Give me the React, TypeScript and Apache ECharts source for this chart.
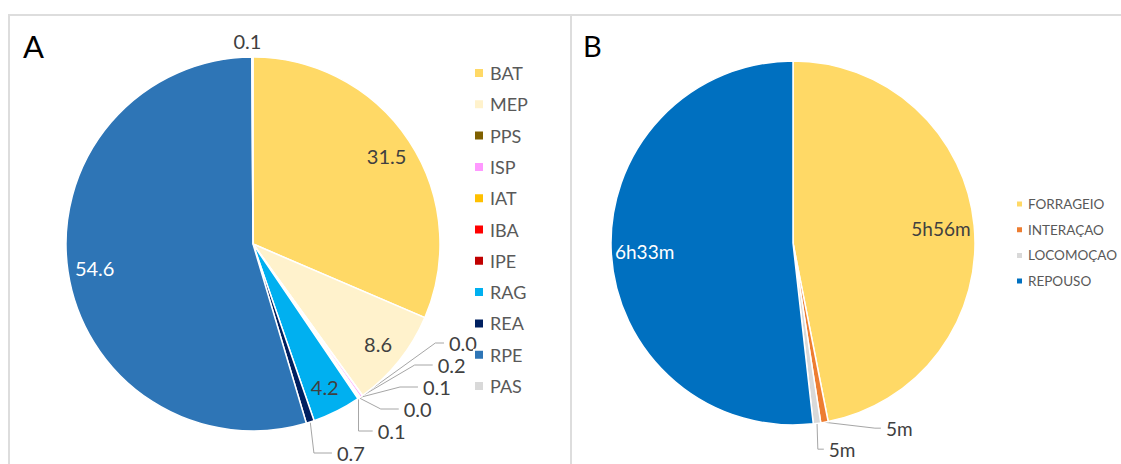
import React, { useEffect, useRef } from 'react';
import * as echarts from 'echarts';

// ---- Panel A data ----
const categoriesA = ['BAT', 'MEP', 'PPS', 'ISP', 'IAT', 'IBA', 'IPE', 'RAG', 'REA', 'RPE', 'PAS'];
const valuesA = [31.5, 8.6, 0.04, 0.2, 0.1, 0.04, 0.1, 4.2, 0.7, 54.6, 0.1];
const colorsA = ['#FFD966', '#FFF2CC', '#7F6000', '#FF99FF', '#FFC000', '#FF0000', '#C00000', '#00B0F0', '#002060', '#2E75B6', '#D9D9D9'];
const insideLabelsA = ['BAT', 'MEP', 'RAG', 'RPE'];
const whiteLabelsA = ['RPE'];
const noLineLabelsA = ['PAS'];

// ---- Panel B data (minutes) ----
const categoriesB = ['FORRAGEIO', 'INTERAÇAO', 'LOCOMOÇAO', 'REPOUSO'];
const minutesB = [356, 5, 5, 393];
const colorsB = ['#FFD966', '#ED7D31', '#D9D9D9', '#0070C0'];
const insideLabelsB = ['FORRAGEIO', 'REPOUSO'];
const whiteLabelsB = ['REPOUSO'];

const panelLetters = ['A', 'B'];

const FONT = 'Lato, "Open Sans", sans-serif';
const LABEL_GRAY = '#404040';
const LEGEND_GRAY = '#595959';
const FRAME = '#DDDDDD';

const fmtMin = (m: number) => {
  const h = Math.floor(m / 60);
  const r = m % 60;
  return h > 0 ? `${h}h${r}m` : `${r}m`;
};

export default function App() {
  const ref = useRef<HTMLDivElement>(null);
  useEffect(() => {
    if (!ref.current) return;
    const chart = echarts.init(ref.current, undefined, { renderer: 'svg' });
    const RA = 187;
    const RB = 182;
    const centerA = [253, 244];
    const centerB = [793, 243];

    const labelLineStyle = { color: '#A6A6A6', width: 1 };

    const mainA = {
      type: 'pie',
      center: centerA,
      radius: RA,
      startAngle: 90,
      clockwise: true,
      avoidLabelOverlap: true,
      itemStyle: { borderColor: '#fff', borderWidth: 1.5 },
      label: {
        show: true,
        position: 'outside',
        color: LABEL_GRAY,
        fontFamily: FONT,
        fontSize: 20,
        formatter: (p: any) => valuesA[p.dataIndex].toFixed(1),
      },
      labelLine: { show: true, length: 12, length2: 18, lineStyle: labelLineStyle },
      labelLayout: (p: any) =>
        noLineLabelsA.includes(categoriesA[p.dataIndex]) ? { align: 'center' } : {},
      emphasis: { disabled: true },
      data: categoriesA.map((n, i) => ({
        name: n,
        value: valuesA[i],
        itemStyle: { color: colorsA[i] },
        label: insideLabelsA.includes(n) ? { show: false } : undefined,
        labelLine: insideLabelsA.includes(n)
          ? { show: false }
          : noLineLabelsA.includes(n)
          ? { show: false, length: 16, length2: 0 }
          : undefined,
      })),
    };
    const overlayA = {
      type: 'pie',
      center: centerA,
      radius: [RA * 0.68, RA],
      startAngle: 90,
      clockwise: true,
      silent: true,
      itemStyle: { color: 'transparent', borderWidth: 0 },
      label: {
        show: false,
        position: 'inside',
        fontFamily: FONT,
        fontSize: 20,
        formatter: (p: any) => valuesA[p.dataIndex].toFixed(1),
      },
      labelLine: { show: false },
      data: categoriesA.map((n, i) => ({
        name: n,
        value: valuesA[i],
        label: insideLabelsA.includes(n)
          ? { show: true, color: whiteLabelsA.includes(n) ? '#FFFFFF' : LABEL_GRAY }
          : { show: false },
      })),
    };

    const mainB = {
      type: 'pie',
      center: centerB,
      radius: RB,
      startAngle: 90,
      clockwise: true,
      avoidLabelOverlap: true,
      itemStyle: { borderColor: '#fff', borderWidth: 1.5 },
      label: {
        show: true,
        position: 'outside',
        color: LABEL_GRAY,
        fontFamily: FONT,
        fontSize: 19,
        formatter: (p: any) => fmtMin(minutesB[p.dataIndex]),
      },
      labelLine: { show: true, length: 6, length2: 6, lineStyle: labelLineStyle },
      emphasis: { disabled: true },
      data: categoriesB.map((n, i) => ({
        name: n,
        value: minutesB[i],
        itemStyle: { color: colorsB[i] },
        label: insideLabelsB.includes(n) ? { show: false } : undefined,
        labelLine: insideLabelsB.includes(n) ? { show: false } : undefined,
      })),
    };
    const overlayB = {
      type: 'pie',
      center: centerB,
      radius: [RB * 0.6, RB],
      startAngle: 90,
      clockwise: true,
      silent: true,
      itemStyle: { color: 'transparent', borderWidth: 0 },
      label: {
        show: false,
        position: 'inside',
        fontFamily: FONT,
        fontSize: 19,
        formatter: (p: any) => fmtMin(minutesB[p.dataIndex]),
      },
      labelLine: { show: false },
      data: categoriesB.map((n, i) => ({
        name: n,
        value: minutesB[i],
        label: insideLabelsB.includes(n)
          ? { show: true, color: whiteLabelsB.includes(n) ? '#FFFFFF' : LABEL_GRAY }
          : { show: false },
      })),
    };

    chart.setOption({
      animation: false,
      backgroundColor: '#FFFFFF',
      legend: [
        {
          orient: 'vertical',
          left: 473,
          top: 64,
          padding: 0,
          itemWidth: 10,
          itemHeight: 10,
          itemGap: 13.3,
          icon: 'rect',
          selectedMode: false,
          data: categoriesA,
          textStyle: { fontFamily: FONT, fontSize: 18, color: LEGEND_GRAY, lineHeight: 18, padding: [0, 0, 0, 1] },
        },
        {
          orient: 'vertical',
          left: 1015,
          top: 196,
          padding: 0,
          itemWidth: 7,
          itemHeight: 7,
          itemGap: 9.7,
          icon: 'rect',
          selectedMode: false,
          data: categoriesB,
          textStyle: { fontFamily: FONT, fontSize: 13.5, color: LEGEND_GRAY, lineHeight: 16 },
        },
      ],
      graphic: [
        { type: 'line', shape: { x1: 8, y1: 15, x2: 1121, y2: 15 }, style: { stroke: FRAME, lineWidth: 2 } },
        { type: 'line', shape: { x1: 9, y1: 15, x2: 9, y2: 464 }, style: { stroke: FRAME, lineWidth: 2 } },
        { type: 'line', shape: { x1: 571, y1: 15, x2: 571, y2: 464 }, style: { stroke: FRAME, lineWidth: 2 } },
        { type: 'text', left: 23, top: 30, style: { text: panelLetters[0], fontFamily: FONT, fontSize: 31, fill: '#000' } },
        { type: 'text', left: 583, top: 31, style: { text: panelLetters[1], fontFamily: FONT, fontSize: 29, fill: '#000' } },
      ],
      series: [mainA, overlayA, mainB, overlayB],
    });
    return () => chart.dispose();
  }, []);
  return <div ref={ref} style={{ position: 'absolute', left: 0, top: 0, width: 1121, height: 464 }} />;
}
